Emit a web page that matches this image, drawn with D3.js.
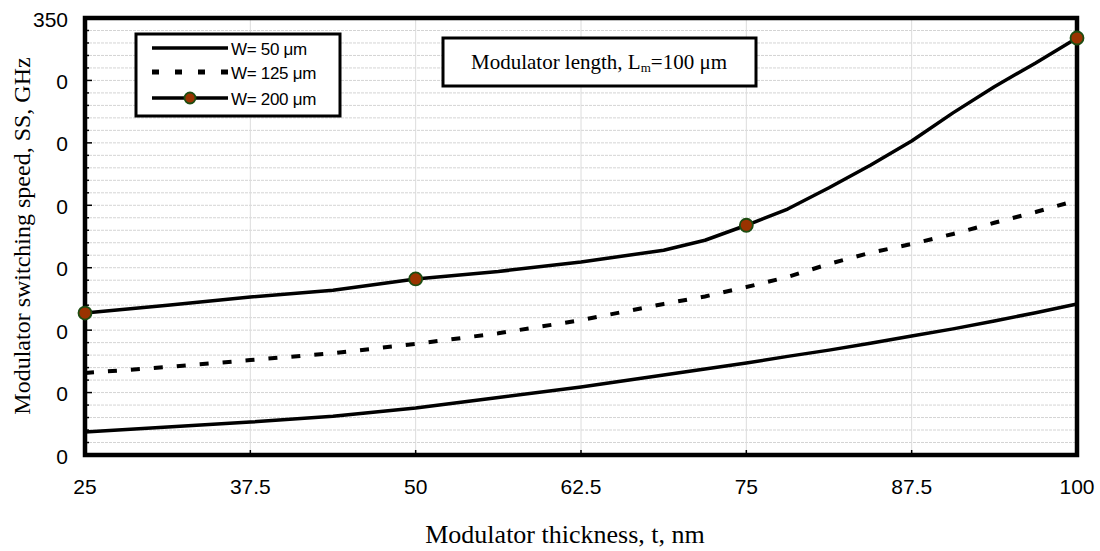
<!DOCTYPE html>
<html>
<head>
<meta charset="utf-8">
<script src="https://cdn.jsdelivr.net/npm/d3@7"></script>
<style>
  body { margin: 0; background: #fff; }
  svg { display: block; }
  .tick-label { font-family: "Liberation Sans", Arial, sans-serif; font-size: 21px; fill: #000; }
  .axis-title { font-family: "Liberation Serif", "Times New Roman", serif; font-size: 24px; fill: #000; }
  .legend-text { font-family: "Liberation Sans", Arial, sans-serif; font-size: 17px; fill: #000; letter-spacing: -0.3px; }
  .note-text { font-family: "Liberation Serif", "Times New Roman", serif; font-size: 21px; fill: #000; }
</style>
</head>
<body>
<div id="chart"></div>
<script>
const WIDTH = 1100;
const HEIGHT = 551;

const margin = { top: 18, right: 23, bottom: 96, left: 85 };

// modulator thickness t, nm
const thickness = [25, 31.25, 37.5, 43.75, 50, 56.25, 62.5, 68.75, 71.875, 75,
  78.125, 81.25, 84.375, 87.5, 90.625, 93.75, 96.875, 100];

// switching speed SS, GHz
const w50 = [18.4, 22.5, 26.4, 31, 37.6, 46, 54.5, 64, 68.8, 73.7,
  79, 84, 89.5, 95.3, 101, 107.3, 114, 121];
const w125 = [65.7, 70.5, 76, 81.5, 89, 97.5, 108, 121, 127, 134.5,
  142.6, 153, 162, 169, 177, 186, 194.6, 204];
const w200 = [113.7, 120, 126.5, 132, 141, 147, 154.6, 164, 172, 184,
  197, 214, 232, 251.5, 274, 295, 314, 334];

const markerThickness = [25, 50, 75, 100];

const xTicks = [25, 37.5, 50, 62.5, 75, 87.5, 100];
const yTicks = [0, 50, 100, 150, 200, 250, 300, 350];
const yTickLabels = ['0', '0', '0', '0', '0', '0', '0', '350'];

const seriesNames = ['W= 50 μm', 'W= 125 μm', 'W= 200 μm'];

const innerW = WIDTH - margin.left - margin.right;
const innerH = HEIGHT - margin.top - margin.bottom;

const svg = d3.select('#chart')
  .append('svg')
  .attr('width', WIDTH)
  .attr('height', HEIGHT);

const g = svg.append('g')
  .attr('transform', `translate(${margin.left}, ${margin.top})`);

const xScale = d3.scaleLinear().domain([25, 100]).range([0, innerW]);
const yScale = d3.scaleLinear().domain([0, 350]).range([innerH, 0]);

// minor horizontal grid every 10
g.append('g')
  .selectAll('line')
  .data(d3.range(0, 351, 10))
  .enter()
  .append('line')
  .attr('x1', 0)
  .attr('x2', innerW)
  .attr('y1', (d) => yScale(d))
  .attr('y2', (d) => yScale(d))
  .attr('stroke', '#d4d4d4')
  .attr('stroke-width', 1)
  .attr('stroke-dasharray', '3,1');

// vertical grid
g.append('g')
  .selectAll('line')
  .data(xTicks)
  .enter()
  .append('line')
  .attr('x1', (d) => xScale(d))
  .attr('x2', (d) => xScale(d))
  .attr('y1', 0)
  .attr('y2', innerH)
  .attr('stroke', '#dcdcdc')
  .attr('stroke-width', 1);

// minor tick marks on left spine
g.append('g')
  .selectAll('line')
  .data(d3.range(0, 351, 10))
  .enter()
  .append('line')
  .attr('x1', 0)
  .attr('x2', (d) => (d % 50 === 0 ? 7 : 4))
  .attr('y1', (d) => yScale(d))
  .attr('y2', (d) => yScale(d))
  .attr('stroke', '#000')
  .attr('stroke-width', 1.5);

// x tick marks on bottom spine
g.append('g')
  .selectAll('line')
  .data(xTicks)
  .enter()
  .append('line')
  .attr('x1', (d) => xScale(d))
  .attr('x2', (d) => xScale(d))
  .attr('y1', innerH)
  .attr('y2', innerH - 5)
  .attr('stroke', '#000')
  .attr('stroke-width', 1.5);

// lines
const line = d3.line()
  .x((d) => xScale(d[0]))
  .y((d) => yScale(d[1]));

const zipped = (ys) => thickness.map((t, i) => [t, ys[i]]);

g.append('path')
  .datum(zipped(w50))
  .attr('fill', 'none')
  .attr('stroke', '#000')
  .attr('stroke-width', 3.5)
  .attr('stroke-linejoin', 'round')
  .attr('d', line);

g.append('path')
  .datum(zipped(w125))
  .attr('fill', 'none')
  .attr('stroke', '#000')
  .attr('stroke-width', 4)
  .attr('stroke-dasharray', '9,14')
  .attr('d', line);

g.append('path')
  .datum(zipped(w200))
  .attr('fill', 'none')
  .attr('stroke', '#000')
  .attr('stroke-width', 3.5)
  .attr('stroke-linejoin', 'round')
  .attr('d', line);

// frame
g.append('rect')
  .attr('x', 0)
  .attr('y', 0)
  .attr('width', innerW)
  .attr('height', innerH)
  .attr('fill', 'none')
  .attr('stroke', '#000')
  .attr('stroke-width', 4.5);

// markers (drawn over the frame like the original)
g.append('g')
  .selectAll('circle')
  .data(markerThickness)
  .enter()
  .append('circle')
  .attr('cx', (d) => xScale(d))
  .attr('cy', (d) => yScale(w200[thickness.indexOf(d)]))
  .attr('r', 6.5)
  .attr('fill', '#9a3300')
  .attr('stroke', '#1d4d12')
  .attr('stroke-width', 1.8);

// tick labels
g.append('g')
  .selectAll('text')
  .data(xTicks)
  .enter()
  .append('text')
  .attr('class', 'tick-label')
  .attr('x', (d) => xScale(d))
  .attr('y', innerH + 31)
  .attr('text-anchor', 'middle')
  .attr('dominant-baseline', 'central')
  .text((d) => d);

g.append('g')
  .selectAll('text')
  .data(yTicks)
  .enter()
  .append('text')
  .attr('class', 'tick-label')
  .attr('x', -17)
  .attr('y', (d) => yScale(d) + 1)
  .attr('text-anchor', 'end')
  .attr('dominant-baseline', 'central')
  .text((d, i) => yTickLabels[i]);

// axis titles
svg.append('text')
  .attr('class', 'axis-title')
  .attr('x', 565)
  .attr('y', 543)
  .attr('text-anchor', 'middle')
  .style('font-size', '26px')
  .text('Modulator thickness, t, nm');

svg.append('text')
  .attr('class', 'axis-title')
  .attr('transform', 'translate(30, 236) rotate(-90)')
  .attr('text-anchor', 'middle')
  .text('Modulator switching speed, SS, GHz');

// legend
const legend = svg.append('g').attr('transform', 'translate(136, 34)');
legend.append('rect')
  .attr('width', 204)
  .attr('height', 82)
  .attr('fill', '#fff')
  .attr('stroke', '#000')
  .attr('stroke-width', 3);

const rowY = [14, 38, 64];
seriesNames.forEach((name, i) => {
  const row = legend.append('g').attr('transform', `translate(0, ${rowY[i]})`);
  row.append('line')
    .attr('x1', 16)
    .attr('x2', 92)
    .attr('stroke', '#000')
    .attr('stroke-width', i === 1 ? 5 : 3.5)
    .attr('stroke-dasharray', i === 1 ? '7,16' : null);
  if (i === 2) {
    row.append('circle')
      .attr('cx', 54)
      .attr('r', 5.5)
      .attr('fill', '#9a3300')
      .attr('stroke', '#1d4d12')
      .attr('stroke-width', 1.8);
  }
  row.append('text')
    .attr('class', 'legend-text')
    .attr('x', 95)
    .attr('y', 1)
    .attr('dominant-baseline', 'central')
    .text(name);
});

// note box
const note = svg.append('g').attr('transform', 'translate(443, 38)');
note.append('rect')
  .attr('width', 313)
  .attr('height', 48)
  .attr('fill', '#fff')
  .attr('stroke', '#000')
  .attr('stroke-width', 3);
const noteText = note.append('text')
  .attr('class', 'note-text')
  .attr('x', 156)
  .attr('y', 31)
  .attr('text-anchor', 'middle');
noteText.append('tspan').text('Modulator length, L');
noteText.append('tspan').attr('font-size', '13px').attr('dy', 3).text('m');
noteText.append('tspan').attr('dy', -3).text('=100 μm');
</script>
</body>
</html>
